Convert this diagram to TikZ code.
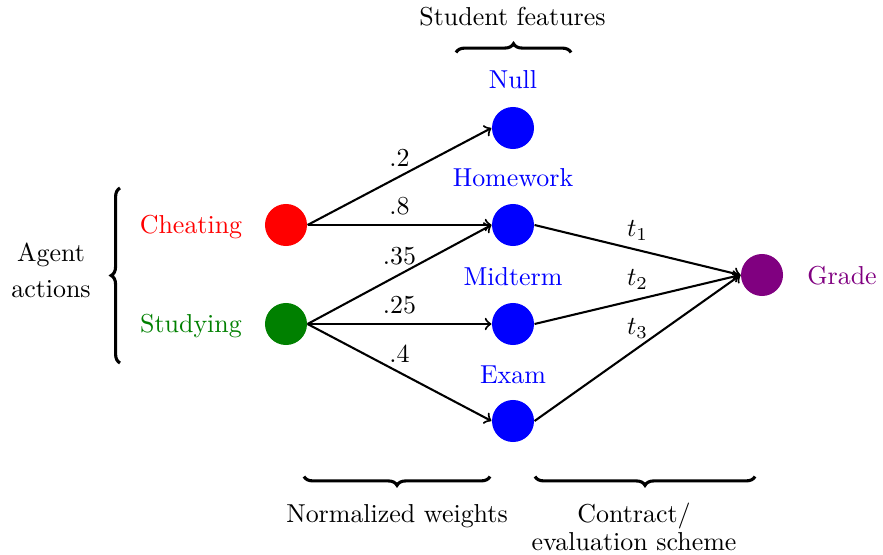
\documentclass[tikz,border=0pt]{standalone}
\usetikzlibrary{decorations.pathreplacing}
\definecolor{gradecol}{RGB}{128,0,128}
\definecolor{studycol}{RGB}{0,128,0}
\begin{document}
\begin{tikzpicture}[x=0.3855pt,y=-0.3855pt,
  dot/.style={circle,minimum size=16.2pt,inner sep=0pt},
  lbl/.style={anchor=base},
  conn/.style={thick,->},
  wlabel/.style={above},
  bracestyle/.style={very thick,decorate,decoration={brace,amplitude=3.4pt}}]
\useasboundingbox (0,0) rectangle (883,555);
% circles
\node[dot,fill=red] (cheat) at (286,225) {};
\node[dot,fill=studycol] (study) at (286,324) {};
\node[dot,fill=blue] (null) at (513,128) {};
\node[dot,fill=blue] (hw) at (513,225) {};
\node[dot,fill=blue] (mid) at (513,324) {};
\node[dot,fill=blue] (exam) at (513,421) {};
\node[dot,fill=gradecol] (grade) at (762,275) {};
% text labels
\node[lbl,text=red] (tcheat) at (191,233) {Cheating};
\node[lbl,text=studycol] (tstudy) at (191,332.5) {Studying};
\node[lbl,text=blue] (tnull) at (513,88.5) {Null};
\node[lbl,text=blue] (thw) at (513,186.5) {Homework};
\node[lbl,text=blue] (tmid) at (513,285) {Midterm};
\node[lbl,text=blue] (texam) at (513,383) {Exam};
\node[lbl,text=gradecol] (tgrade) at (842,284.5) {Grade};
% group labels
\node[lbl] (tsf) at (512.5,26) {Student features};
\node[align=center] (tagent) at (51,270) {Agent\\[1.8pt]actions};
\node[lbl] (tnw) at (397,522) {Normalized weights};
\node[align=center,anchor=north] (tcon) at (634,494) {Contract/\\[-1.4pt]evaluation scheme};
% braces
\coordinate (b1a) at (456,52.5); \coordinate (b1b) at (571,52.5);
\draw[bracestyle] (b1a) -- (b1b);
\coordinate (b2a) at (120,363); \coordinate (b2b) at (120,188);
\draw[bracestyle] (b2a) -- (b2b);
\coordinate (b3a) at (490,476.5); \coordinate (b3b) at (304,476.5);
\draw[bracestyle] (b3a) -- (b3b);
\coordinate (b4a) at (755,476.5); \coordinate (b4b) at (535,476.5);
\draw[bracestyle] (b4a) -- (b4b);
% edges
\draw[conn] (cheat.east) -- node[wlabel] {.2} (null.west);
\draw[conn] (cheat.east) -- node[wlabel] {.8} (hw.west);
\draw[conn] (study.east) -- node[wlabel] {.35} (hw.west);
\draw[conn] (study.east) -- node[wlabel] {.25} (mid.west);
\draw[conn] (study.east) -- node[wlabel] {.4} (exam.west);
\draw[conn] (hw.east) -- node[wlabel] {$t_1$} (grade.west);
\draw[conn] (mid.east) -- node[wlabel] {$t_2$} (grade.west);
\draw[conn] (exam.east) -- node[wlabel] {$t_3$} (grade.west);
\end{tikzpicture}
\end{document}
